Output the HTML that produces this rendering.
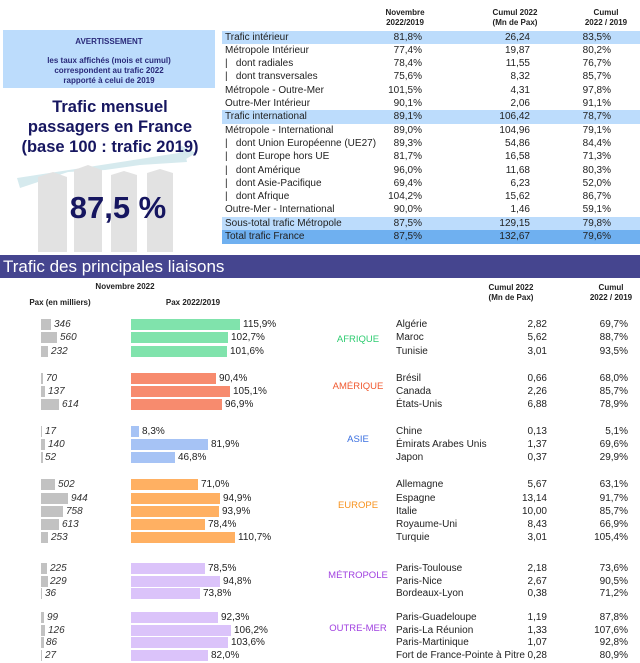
<!DOCTYPE html>
<html><head><meta charset="utf-8"><style>
body{margin:0;width:640px;height:663px;background:#fff;position:relative;overflow:hidden;font-family:"Liberation Sans",sans-serif;color:#222}
.a{position:absolute;white-space:nowrap}
.h{font-size:8px;font-weight:bold;text-align:center;line-height:10px;color:#222}
.tr{position:absolute;left:222px;width:418px;height:13.3px;font-size:10px;line-height:13.3px}
.tr span{position:absolute}
.tr .l{left:3px}.tr .c1{right:218px}.tr .c2{right:110px}.tr .c3{right:29px}
.hl{background:#bcdcfc}.hl2{background:#6fb0f0}
.r{position:absolute;left:0;width:640px;height:11px;font-size:10px;line-height:11px}
.r span,.r i{position:absolute}
.pb{left:41px;height:11px;background:#c2c2c2}
.pv{font-style:italic;color:#333}
.b{left:131px;height:11px}
.cn{left:396px}.cv{right:93px}.cp{right:12px}
.g{background:#80e3ac}.o{background:#f78b6e}.bl{background:#a6c3f5}.y{background:#ffb062}.p{background:#dbc3fa}
.reg{font-size:9.5px;text-align:center;width:80px}
</style></head><body>
<!-- left box -->
<div class="a" style="left:3px;top:30px;width:212px;height:58px;background:#bcdcfc"></div>
<div class="a h" style="left:3px;top:37px;width:212px;color:#2a2a7a">AVERTISSEMENT</div>
<div class="a h" style="left:3px;top:56px;width:212px;color:#2a2a7a">les taux affichés (mois et cumul)<br>correspondent au trafic 2022<br>rapporté à celui de 2019</div>
<svg class="a" style="left:0;top:140px" width="220" height="112">
<polygon points="17,38 185,12 187,22 140,25 105,30 68,32 20,48" fill="#d6eaee"/>
<polygon points="178,4 196,13 181,22" fill="#d6eaee"/>
<path d="M38,37 L53,32 L67,37 V112 H38Z M74,30 L88,25 L102,30 V112 H74Z M111,35 L124,31 L137,35 V112 H111Z M147,33 L160,29 L173,33 V112 H147Z" fill="#e2e2e2"/>
</svg>
<div class="a" style="left:0;top:97px;width:220px;text-align:center;font-size:16.5px;font-weight:bold;line-height:20px;color:#161660">Trafic mensuel<br>passagers en France<br>(base 100 : trafic 2019)</div>
<div class="a" style="left:0;top:190px;width:236px;text-align:center;font-size:31px;font-weight:bold;color:#161660">87,5 %</div>
<!-- top table -->
<div class="a h" style="left:370px;top:8px;width:70px">Novembre<br>2022/2019</div>
<div class="a h" style="left:480px;top:8px;width:70px">Cumul 2022<br>(Mn de Pax)</div>
<div class="a h" style="left:571px;top:8px;width:70px">Cumul<br>2022 / 2019</div>
<div class="tr hl" style="top:30.5px"><span class="l">Trafic intérieur</span><span class="c1">81,8%</span><span class="c2">26,24</span><span class="c3">83,5%</span></div>
<div class="tr" style="top:43.8px"><span class="l">Métropole Intérieur</span><span class="c1">77,4%</span><span class="c2">19,87</span><span class="c3">80,2%</span></div>
<div class="tr" style="top:57.1px"><span class="l">|&nbsp;&nbsp; dont radiales</span><span class="c1">78,4%</span><span class="c2">11,55</span><span class="c3">76,7%</span></div>
<div class="tr" style="top:70.4px"><span class="l">|&nbsp;&nbsp; dont transversales</span><span class="c1">75,6%</span><span class="c2">8,32</span><span class="c3">85,7%</span></div>
<div class="tr" style="top:83.7px"><span class="l">Métropole - Outre-Mer</span><span class="c1">101,5%</span><span class="c2">4,31</span><span class="c3">97,8%</span></div>
<div class="tr" style="top:97px"><span class="l">Outre-Mer Intérieur</span><span class="c1">90,1%</span><span class="c2">2,06</span><span class="c3">91,1%</span></div>
<div class="tr hl" style="top:110.3px"><span class="l">Trafic international</span><span class="c1">89,1%</span><span class="c2">106,42</span><span class="c3">78,7%</span></div>
<div class="tr" style="top:123.6px"><span class="l">Métropole - International</span><span class="c1">89,0%</span><span class="c2">104,96</span><span class="c3">79,1%</span></div>
<div class="tr" style="top:136.9px"><span class="l">|&nbsp;&nbsp; dont Union Européenne (UE27)</span><span class="c1">89,3%</span><span class="c2">54,86</span><span class="c3">84,4%</span></div>
<div class="tr" style="top:150.2px"><span class="l">|&nbsp;&nbsp; dont Europe hors UE</span><span class="c1">81,7%</span><span class="c2">16,58</span><span class="c3">71,3%</span></div>
<div class="tr" style="top:163.5px"><span class="l">|&nbsp;&nbsp; dont Amérique</span><span class="c1">96,0%</span><span class="c2">11,68</span><span class="c3">80,3%</span></div>
<div class="tr" style="top:176.8px"><span class="l">|&nbsp;&nbsp; dont Asie-Pacifique</span><span class="c1">69,4%</span><span class="c2">6,23</span><span class="c3">52,0%</span></div>
<div class="tr" style="top:190.1px"><span class="l">|&nbsp;&nbsp; dont Afrique</span><span class="c1">104,2%</span><span class="c2">15,62</span><span class="c3">86,7%</span></div>
<div class="tr" style="top:203.4px"><span class="l">Outre-Mer - International</span><span class="c1">90,0%</span><span class="c2">1,46</span><span class="c3">59,1%</span></div>
<div class="tr hl" style="top:216.7px"><span class="l">Sous-total trafic Métropole</span><span class="c1">87,5%</span><span class="c2">129,15</span><span class="c3">79,8%</span></div>
<div class="tr hl2" style="top:230px;height:14px"><span class="l">Total trafic France</span><span class="c1">87,5%</span><span class="c2">132,67</span><span class="c3">79,6%</span></div>
<!-- section header -->
<div class="a" style="left:0;top:255px;width:640px;height:23px;background:#45458f"></div>
<div class="a" style="left:3px;top:257px;font-size:17px;color:#fff">Trafic des principales liaisons</div>
<div class="a h" style="left:85px;top:282px;width:80px">Novembre 2022</div>
<div class="a h" style="left:20px;top:298px;width:80px">Pax (en milliers)</div>
<div class="a h" style="left:153px;top:298px;width:80px">Pax 2022/2019</div>
<div class="a h" style="left:476px;top:283px;width:70px">Cumul 2022<br>(Mn de Pax)</div>
<div class="a h" style="left:576px;top:283px;width:70px">Cumul<br>2022 / 2019</div>
<!-- regions -->
<div class="a reg" style="left:318px;top:334px;color:#2ecc71">AFRIQUE</div>
<div class="a reg" style="left:318px;top:381px;color:#f05a30">AMÉRIQUE</div>
<div class="a reg" style="left:318px;top:434px;color:#3a6fe0">ASIE</div>
<div class="a reg" style="left:318px;top:500px;color:#f7921e">EUROPE</div>
<div class="a reg" style="left:318px;top:570px;color:#a040e0">MÉTROPOLE</div>
<div class="a reg" style="left:318px;top:623px;color:#a040e0">OUTRE-MER</div>
<!-- rows -->
<div class="r" style="top:319px"><span class="pb" style="width:10px"></span><i class="pv" style="left:54px">346</i><span class="b g" style="width:109px"></span><span style="left:243px">115,9%</span><span class="cn">Algérie</span><span class="cv">2,82</span><span class="cp">69,7%</span></div>
<div class="r" style="top:332px"><span class="pb" style="width:16px"></span><i class="pv" style="left:60px">560</i><span class="b g" style="width:97px"></span><span style="left:231px">102,7%</span><span class="cn">Maroc</span><span class="cv">5,62</span><span class="cp">88,7%</span></div>
<div class="r" style="top:346px"><span class="pb" style="width:7px"></span><i class="pv" style="left:51px">232</i><span class="b g" style="width:96px"></span><span style="left:230px">101,6%</span><span class="cn">Tunisie</span><span class="cv">3,01</span><span class="cp">93,5%</span></div>

<div class="r" style="top:373px"><span class="pb" style="width:2px"></span><i class="pv" style="left:46px">70</i><span class="b o" style="width:85px"></span><span style="left:219px">90,4%</span><span class="cn">Brésil</span><span class="cv">0,66</span><span class="cp">68,0%</span></div>
<div class="r" style="top:386px"><span class="pb" style="width:4px"></span><i class="pv" style="left:48px">137</i><span class="b o" style="width:99px"></span><span style="left:233px">105,1%</span><span class="cn">Canada</span><span class="cv">2,26</span><span class="cp">85,7%</span></div>
<div class="r" style="top:399px"><span class="pb" style="width:18px"></span><i class="pv" style="left:62px">614</i><span class="b o" style="width:91px"></span><span style="left:225px">96,9%</span><span class="cn">États-Unis</span><span class="cv">6,88</span><span class="cp">78,9%</span></div>

<div class="r" style="top:426px"><span class="pb" style="width:1px"></span><i class="pv" style="left:45px">17</i><span class="b bl" style="width:8px"></span><span style="left:142px">8,3%</span><span class="cn">Chine</span><span class="cv">0,13</span><span class="cp">5,1%</span></div>
<div class="r" style="top:439px"><span class="pb" style="width:4px"></span><i class="pv" style="left:48px">140</i><span class="b bl" style="width:77px"></span><span style="left:211px">81,9%</span><span class="cn">Émirats Arabes Unis</span><span class="cv">1,37</span><span class="cp">69,6%</span></div>
<div class="r" style="top:452px"><span class="pb" style="width:1.5px"></span><i class="pv" style="left:45px">52</i><span class="b bl" style="width:44px"></span><span style="left:178px">46,8%</span><span class="cn">Japon</span><span class="cv">0,37</span><span class="cp">29,9%</span></div>

<div class="r" style="top:479px"><span class="pb" style="width:14px"></span><i class="pv" style="left:58px">502</i><span class="b y" style="width:67px"></span><span style="left:201px">71,0%</span><span class="cn">Allemagne</span><span class="cv">5,67</span><span class="cp">63,1%</span></div>
<div class="r" style="top:492.5px"><span class="pb" style="width:27px"></span><i class="pv" style="left:71px">944</i><span class="b y" style="width:89px"></span><span style="left:223px">94,9%</span><span class="cn">Espagne</span><span class="cv">13,14</span><span class="cp">91,7%</span></div>
<div class="r" style="top:506px"><span class="pb" style="width:22px"></span><i class="pv" style="left:66px">758</i><span class="b y" style="width:88px"></span><span style="left:222px">93,9%</span><span class="cn">Italie</span><span class="cv">10,00</span><span class="cp">85,7%</span></div>
<div class="r" style="top:519px"><span class="pb" style="width:18px"></span><i class="pv" style="left:62px">613</i><span class="b y" style="width:74px"></span><span style="left:208px">78,4%</span><span class="cn">Royaume-Uni</span><span class="cv">8,43</span><span class="cp">66,9%</span></div>
<div class="r" style="top:532px"><span class="pb" style="width:7px"></span><i class="pv" style="left:51px">253</i><span class="b y" style="width:104px"></span><span style="left:238px">110,7%</span><span class="cn">Turquie</span><span class="cv">3,01</span><span class="cp">105,4%</span></div>

<div class="r" style="top:563px"><span class="pb" style="width:6px"></span><i class="pv" style="left:50px">225</i><span class="b p" style="width:74px"></span><span style="left:208px">78,5%</span><span class="cn">Paris-Toulouse</span><span class="cv">2,18</span><span class="cp">73,6%</span></div>
<div class="r" style="top:575.5px"><span class="pb" style="width:7px"></span><i class="pv" style="left:50px">229</i><span class="b p" style="width:89px"></span><span style="left:223px">94,8%</span><span class="cn">Paris-Nice</span><span class="cv">2,67</span><span class="cp">90,5%</span></div>
<div class="r" style="top:588px"><span class="pb" style="width:1px"></span><i class="pv" style="left:45px">36</i><span class="b p" style="width:69px"></span><span style="left:203px">73,8%</span><span class="cn">Bordeaux-Lyon</span><span class="cv">0,38</span><span class="cp">71,2%</span></div>

<div class="r" style="top:612px"><span class="pb" style="width:3px"></span><i class="pv" style="left:47px">99</i><span class="b p" style="width:87px"></span><span style="left:221px">92,3%</span><span class="cn">Paris-Guadeloupe</span><span class="cv">1,19</span><span class="cp">87,8%</span></div>
<div class="r" style="top:624.5px"><span class="pb" style="width:4px"></span><i class="pv" style="left:48px">126</i><span class="b p" style="width:100px"></span><span style="left:234px">106,2%</span><span class="cn">Paris-La Réunion</span><span class="cv">1,33</span><span class="cp">107,6%</span></div>
<div class="r" style="top:637px"><span class="pb" style="width:2.5px"></span><i class="pv" style="left:46px">86</i><span class="b p" style="width:97px"></span><span style="left:231px">103,6%</span><span class="cn">Paris-Martinique</span><span class="cv">1,07</span><span class="cp">92,8%</span></div>
<div class="r" style="top:649.5px"><span class="pb" style="width:1px"></span><i class="pv" style="left:45px">27</i><span class="b p" style="width:77px"></span><span style="left:211px">82,0%</span><span class="cn">Fort de France-Pointe à Pitre</span><span class="cv">0,28</span><span class="cp">80,9%</span></div>
</body></html>
